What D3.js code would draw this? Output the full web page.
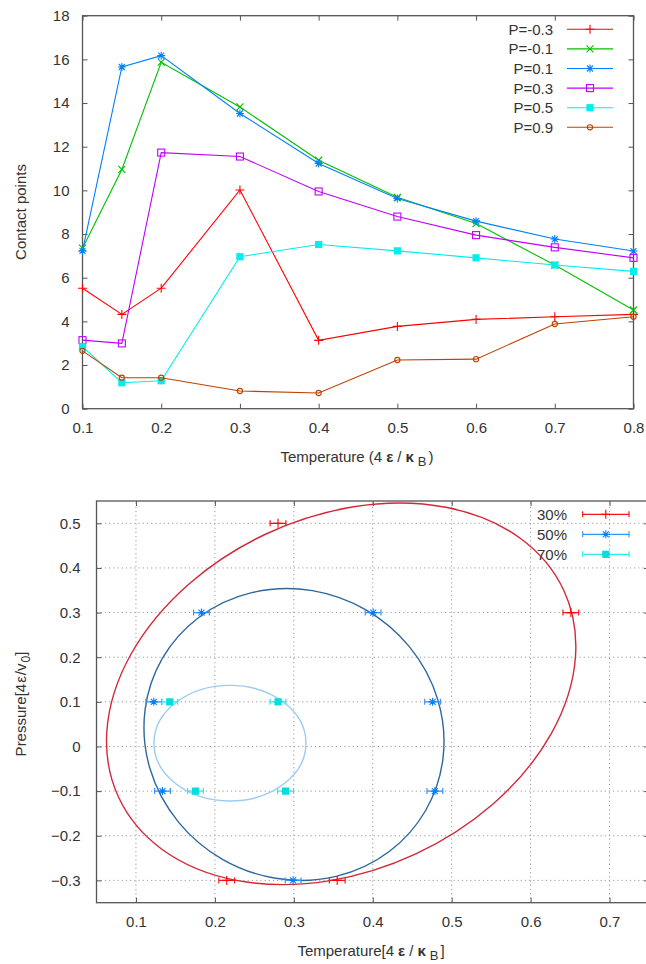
<!DOCTYPE html>
<html><head><meta charset="utf-8">
<script src="https://cdn.jsdelivr.net/npm/d3@7"></script>
<style>
html,body{margin:0;padding:0;background:#fff;}
svg{display:block;font-family:"Liberation Sans",Arial,sans-serif;}
text{fill:#333;}
</style></head><body>
<svg id="c" width="646" height="964"></svg>
<script>
// ---------- Top chart data ----------
const temps = [0.1, 0.15, 0.2, 0.3, 0.4, 0.5, 0.6, 0.7, 0.8];
const seriesNames = ["P=-0.3", "P=-0.1", "P=0.1", "P=0.3", "P=0.5", "P=0.9"];
const pMinus03 = [5.52, 4.32, 5.52, 10.02, 3.13, 3.77, 4.09, 4.21, 4.32];
const pMinus01 = [7.35, 10.96, 15.87, 13.82, 11.38, 9.68, 8.48, 6.58, 4.52];
const pPlus01  = [7.23, 15.65, 16.17, 13.52, 11.23, 9.63, 8.59, 7.77, 7.22];
const pPlus03  = [3.14, 2.99, 11.73, 11.55, 9.95, 8.80, 7.95, 7.39, 6.91];
const pPlus05  = [2.84, 1.19, 1.28, 6.96, 7.52, 7.23, 6.91, 6.58, 6.29];
const pPlus09  = [2.65, 1.42, 1.42, 0.81, 0.72, 2.23, 2.27, 3.88, 4.21];
const topXTicks = [0.1, 0.2, 0.3, 0.4, 0.5, 0.6, 0.7, 0.8];
const topYTicks = [0, 2, 4, 6, 8, 10, 12, 14, 16, 18];

// ---------- Bottom chart data ----------
const groupNames = ["30%", "50%", "70%"];
const t30 = [0.28, 0.651, 0.215, 0.355];
const p30 = [0.5, 0.3, -0.3, -0.3];
const t50 = [0.183, 0.4005, 0.1226, 0.4758, 0.1336, 0.4787, 0.2991];
const p50 = [0.3, 0.3, 0.1, 0.1, -0.1, -0.1, -0.3];
const t70 = [0.1428, 0.28, 0.1754, 0.2895];
const p70 = [0.1, 0.1, -0.1, -0.1];
const tErr = 0.01;
// fitted boundary ellipses: centre, semi-axes, tilt
const ellCenterT = [0.360, 0.3002, 0.2191];
const ellCenterP = [0.118, 0.0269, 0.0074];
const ellRadiusT = [0.3110, 0.1926, 0.0963];
const ellRadiusP = [0.3957, 0.3223, 0.1295];
const ellTilt    = [-25, 30, 0];
const botXTicks = [0.1, 0.2, 0.3, 0.4, 0.5, 0.6, 0.7];
const botYTicks = [-0.3, -0.2, -0.1, 0, 0.1, 0.2, 0.3, 0.4, 0.5];

const svg = d3.select("#c");
const axisColor = "#555";
const fs = 15;

function marker(g, type, x, y, color) {
  const s = g.append("g").attr("transform", `translate(${x},${y})`);
  const ap = (d) => s.append("path").attr("d", d).attr("stroke", color).attr("stroke-width", 1.1).attr("fill", "none");
  if (type === "plus") ap("M-4.5,0H4.5M0,-4.5V4.5");
  else if (type === "cross") ap("M-3.5,-3.5L3.5,3.5M-3.5,3.5L3.5,-3.5");
  else if (type === "star") ap("M-4,0H4M0,-4V4M-3,-3L3,3M-3,3L3,-3");
  else if (type === "osq") s.append("rect").attr("x",-3.5).attr("y",-3.5).attr("width",7).attr("height",7).attr("fill","none").attr("stroke",color).attr("stroke-width",1.1);
  else if (type === "fsq") s.append("rect").attr("x",-3.6).attr("y",-3.6).attr("width",7.2).attr("height",7.2).attr("fill",color);
  else if (type === "circ") s.append("circle").attr("r",2.6).attr("fill","none").attr("stroke",color).attr("stroke-width",1.1);
}

function frame(x, y, xt, yt, fmtX, fmtY, grid, padY) {
  const [x0, x1] = x.range(), [y0, y1] = y.range();
  const g = svg.append("g");
  if (grid) {
    xt.forEach(v => g.append("line").attr("x1", x(v)).attr("x2", x(v)).attr("y1", y0).attr("y2", y1)
      .attr("stroke", "#9a9a9a").attr("stroke-dasharray", "1.2,3").attr("stroke-width", 1));
    yt.forEach(v => g.append("line").attr("x1", x0).attr("x2", x1).attr("y1", y(v)).attr("y2", y(v))
      .attr("stroke", "#9a9a9a").attr("stroke-dasharray", "1.2,3").attr("stroke-width", 1));
  }
  const styleText = a => a.selectAll("text").attr("font-size", fs).attr("fill", "#333").attr("font-family", "Liberation Sans, Arial, sans-serif");
  g.append("g").attr("transform", `translate(0,${y0})`).call(d3.axisBottom(x).tickValues(xt).tickSizeInner(-5).tickSizeOuter(0).tickPadding(14).tickFormat(fmtX))
    .call(a => { a.select(".domain").remove(); a.selectAll("line").attr("stroke", axisColor); styleText(a); });
  g.append("g").attr("transform", `translate(0,${y1})`).call(d3.axisTop(x).tickValues(xt).tickSizeInner(-5).tickSizeOuter(0).tickFormat(""))
    .call(a => { a.select(".domain").remove(); a.selectAll("line").attr("stroke", axisColor); });
  g.append("g").attr("transform", `translate(${x0},0)`).call(d3.axisLeft(y).tickValues(yt).tickSizeInner(-5).tickSizeOuter(0).tickPadding(padY).tickFormat(fmtY))
    .call(a => { a.select(".domain").remove(); a.selectAll("line").attr("stroke", axisColor); styleText(a); });
  g.append("g").attr("transform", `translate(${x1},0)`).call(d3.axisRight(y).tickValues(yt).tickSizeInner(-5).tickSizeOuter(0).tickFormat(""))
    .call(a => { a.select(".domain").remove(); a.selectAll("line").attr("stroke", axisColor); });
  g.append("rect").attr("x", x0).attr("y", y1).attr("width", x1 - x0).attr("height", y0 - y1)
    .attr("fill", "none").attr("stroke", axisColor).attr("stroke-width", 1.3);
}

function title(x, y, open, close) {
  const t = svg.append("text").attr("x", x).attr("y", y).attr("text-anchor", "middle").attr("font-size", fs);
  t.append("tspan").text(open + "4");
  t.append("tspan").attr("dx", 4).attr("font-weight", "bold").text("ε");
  t.append("tspan").attr("dx", 4).text("/");
  t.append("tspan").attr("dx", 4).attr("font-weight", "bold").text("κ");
  t.append("tspan").attr("dx", 4).attr("dy", 4).attr("font-size", 13).text("B");
  t.append("tspan").attr("dx", 2).attr("dy", -4).text(close);
}

// =============== TOP CHART ===============
const xT = d3.scaleLinear().domain([0.1, 0.8]).range([82.5, 633.5]);
const yT = d3.scaleLinear().domain([0, 18]).range([408.7, 15.7]);
frame(xT, yT, topXTicks, topYTicks, d3.format(".1f"), d3.format("d"), false, 13);

const topSeries = [
  {name: seriesNames[0], vals: pMinus03, color: "#ff0000", m: "plus"},
  {name: seriesNames[1], vals: pMinus01, color: "#00c000", m: "cross"},
  {name: seriesNames[2], vals: pPlus01,  color: "#0080ff", m: "star"},
  {name: seriesNames[3], vals: pPlus03,  color: "#c000ff", m: "osq"},
  {name: seriesNames[4], vals: pPlus05,  color: "#00eeee", m: "fsq"},
  {name: seriesNames[5], vals: pPlus09,  color: "#c04000", m: "circ"},
];
const lineT = d3.line().x(d => xT(d[0])).y(d => yT(d[1]));
const gTop = svg.append("g");
topSeries.forEach((s, i) => {
  const pts = temps.map((t, j) => [t, s.vals[j]]);
  gTop.append("path").attr("d", lineT(pts)).attr("fill", "none").attr("stroke", s.color).attr("stroke-width", 1.1);
  pts.forEach(p => marker(gTop, s.m, xT(p[0]), yT(p[1]), s.color));
  const ly = 29.3 + 19.6 * i;
  gTop.append("text").attr("x", 553).attr("y", ly + 5.4).attr("text-anchor", "end").attr("font-size", fs).text(s.name);
  gTop.append("line").attr("x1", 567).attr("x2", 613).attr("y1", ly).attr("y2", ly).attr("stroke", s.color).attr("stroke-width", 1.1);
  marker(gTop, s.m, 590, ly, s.color);
});

title(357, 462, "Temperature (", ")");
svg.append("text").attr("transform", "translate(26,212) rotate(-90)").attr("text-anchor", "middle").attr("font-size", fs).text("Contact points");

// =============== BOTTOM CHART ===============
const xB = d3.scaleLinear().domain([0.05, 0.75]).range([96.5, 649]);
const yB = d3.scaleLinear().domain([-0.35, 0.55]).range([902.7, 501]);
svg.append("defs").append("clipPath").attr("id", "clipB").append("rect")
  .attr("x", 96.5).attr("y", 501).attr("width", 552.5).attr("height", 401.7);
frame(xB, yB, botXTicks, botYTicks, d3.format(".1f"), d => d === 0 ? "0" : d3.format(".1f")(d), true, 16);

const gB = svg.append("g").attr("clip-path", "url(#clipB)");
const ellColors = ["#d3283a", "#2e679e", "#9acbf2"];
ellCenterT.forEach((ct, i) => {
  const cx = xB(ct), cy = yB(ellCenterP[i]);
  gB.append("ellipse").attr("cx", cx).attr("cy", cy)
    .attr("rx", xB(ct + ellRadiusT[i]) - cx)
    .attr("ry", cy - yB(ellCenterP[i] + ellRadiusP[i]))
    .attr("transform", `rotate(${ellTilt[i]},${cx},${cy})`)
    .attr("fill", "none").attr("stroke", ellColors[i]).attr("stroke-width", 1.4);
});

const groups = [
  {name: groupNames[0], t: t30, p: p30, color: "#ff0000", bar: "#f01818", m: "plus"},
  {name: groupNames[1], t: t50, p: p50, color: "#0080ff", bar: "#3396ff", m: "star"},
  {name: groupNames[2], t: t70, p: p70, color: "#00dede", bar: "#33eaea", m: "fsq"},
];
function errbar(g, xa, xb, y, col) {
  g.append("path").attr("d", `M${xa},${y}H${xb}M${xa},${y-3}V${y+3}M${xb},${y-3}V${y+3}`)
    .attr("stroke", col).attr("stroke-width", 1.2).attr("fill", "none");
}
groups.forEach((gr, i) => {
  gr.t.forEach((t, j) => {
    const py = yB(gr.p[j]);
    errbar(gB, xB(t - tErr), xB(t + tErr), py, gr.bar);
    marker(gB, gr.m, xB(t), py, gr.color);
  });
  const ly = 514.3 + 20 * i;
  svg.append("text").attr("x", 567).attr("y", ly + 5.4).attr("text-anchor", "end").attr("font-size", fs).text(gr.name);
  errbar(svg, 582.7, 629, ly, gr.bar);
  marker(svg, gr.m, 605.8, ly, gr.color);
});

title(371, 956, "Temperature[", "]");
const t3 = svg.append("text").attr("transform", "translate(26,704) rotate(-90)").attr("text-anchor", "middle").attr("font-size", fs);
t3.append("tspan").text("Pressure[4");
t3.append("tspan").attr("dx", 1).text("ε");
t3.append("tspan").attr("dx", 1).text("/v");
t3.append("tspan").attr("dx", 1).attr("dy", 4).attr("font-size", 12).text("0");
t3.append("tspan").attr("dy", -4).text("]");
</script></body></html>
